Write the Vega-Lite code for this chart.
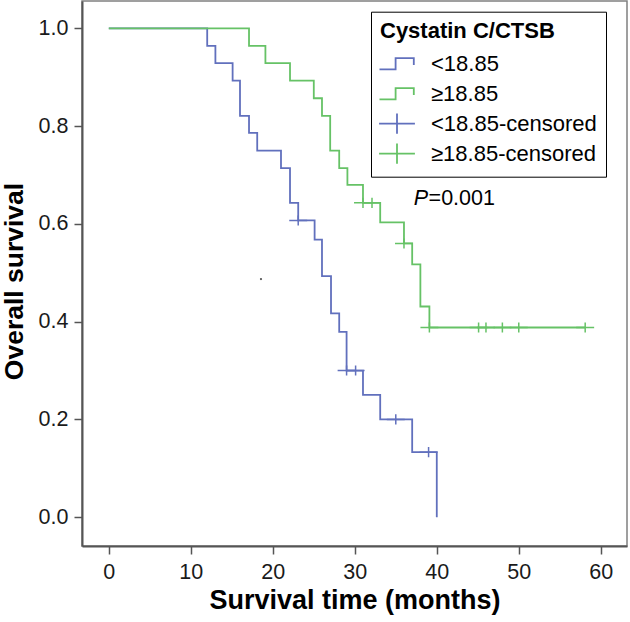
{
  "$schema": "https://vega.github.io/schema/vega-lite/v6.json",
  "width": 545,
  "height": 545,
  "autosize": "none",
  "padding": {"left": 82, "top": 1, "right": 3, "bottom": 76},
  "background": "white",
  "config": {
    "font": "Liberation Sans",
    "view": {"stroke": "#808080", "strokeWidth": 1.5}
  },
  "datasets": {
    "curves": [
      {"group": "<18.85", "time": 0, "survival": 1},
      {"group": "<18.85", "time": 12.0, "survival": 0.964},
      {"group": "<18.85", "time": 13.0, "survival": 0.929},
      {"group": "<18.85", "time": 15.1, "survival": 0.893},
      {"group": "<18.85", "time": 16.0, "survival": 0.821},
      {"group": "<18.85", "time": 17.1, "survival": 0.786},
      {"group": "<18.85", "time": 18.1, "survival": 0.75},
      {"group": "<18.85", "time": 21.0, "survival": 0.714},
      {"group": "<18.85", "time": 22.1, "survival": 0.643},
      {"group": "<18.85", "time": 23.1, "survival": 0.607},
      {"group": "<18.85", "time": 25.1, "survival": 0.568},
      {"group": "<18.85", "time": 26.0, "survival": 0.493},
      {"group": "<18.85", "time": 27.1, "survival": 0.417},
      {"group": "<18.85", "time": 28.1, "survival": 0.379},
      {"group": "<18.85", "time": 29.0, "survival": 0.3},
      {"group": "<18.85", "time": 31.0, "survival": 0.25},
      {"group": "<18.85", "time": 33.1, "survival": 0.2},
      {"group": "<18.85", "time": 37.0, "survival": 0.133},
      {"group": "<18.85", "time": 40.0, "survival": 0.0},
      {"group": "≥18.85", "time": 0, "survival": 1},
      {"group": "≥18.85", "time": 17.1, "survival": 0.964},
      {"group": "≥18.85", "time": 19.1, "survival": 0.929},
      {"group": "≥18.85", "time": 22.1, "survival": 0.893},
      {"group": "≥18.85", "time": 25.0, "survival": 0.857},
      {"group": "≥18.85", "time": 26.0, "survival": 0.821},
      {"group": "≥18.85", "time": 27.0, "survival": 0.75},
      {"group": "≥18.85", "time": 28.1, "survival": 0.714},
      {"group": "≥18.85", "time": 29.1, "survival": 0.68},
      {"group": "≥18.85", "time": 31.0, "survival": 0.643},
      {"group": "≥18.85", "time": 33.1, "survival": 0.603},
      {"group": "≥18.85", "time": 36.0, "survival": 0.56},
      {"group": "≥18.85", "time": 37.0, "survival": 0.517},
      {"group": "≥18.85", "time": 38.0, "survival": 0.431},
      {"group": "≥18.85", "time": 39.1, "survival": 0.388},
      {"group": "≥18.85", "time": 58.1, "survival": 0.388}
    ],
    "censors": [
      {"group": "<18.85-censored", "time": 23.1, "survival": 0.607},
      {"group": "<18.85-censored", "time": 29.0, "survival": 0.3},
      {"group": "<18.85-censored", "time": 30.1, "survival": 0.3},
      {"group": "<18.85-censored", "time": 35.0, "survival": 0.2},
      {"group": "<18.85-censored", "time": 39.0, "survival": 0.133},
      {"group": "≥18.85-censored", "time": 31.0, "survival": 0.643},
      {"group": "≥18.85-censored", "time": 32.1, "survival": 0.643},
      {"group": "≥18.85-censored", "time": 36.0, "survival": 0.56},
      {"group": "≥18.85-censored", "time": 39.1, "survival": 0.388},
      {"group": "≥18.85-censored", "time": 45.1, "survival": 0.388},
      {"group": "≥18.85-censored", "time": 46.0, "survival": 0.388},
      {"group": "≥18.85-censored", "time": 48.0, "survival": 0.388},
      {"group": "≥18.85-censored", "time": 50.0, "survival": 0.388},
      {"group": "≥18.85-censored", "time": 58.1, "survival": 0.388}
    ],
    "annot": [
      {"time": 37.2, "survival": 0.639, "label": "P"},
      {"time": 39.0, "survival": 0.639, "label": "=0.001"}
    ],
    "speck": [
      {"time": 18.56, "survival": 0.487}
    ]
  },
  "layer": [
    {
      "data": {"name": "curves"},
      "mark": {"type": "line", "interpolate": "step-after", "strokeWidth": 1.8},
      "encoding": {
        "x": {
          "field": "time", "type": "quantitative",
          "scale": {"domain": [-3.27, 63.2], "nice": false, "zero": false},
          "axis": {
            "values": [0, 10, 20, 30, 40, 50, 60],
            "title": "Survival time (months)",
            "grid": false,
            "domainColor": "#555555", "domainWidth": 2,
            "tickColor": "#555555", "tickWidth": 1.5, "tickSize": 8,
            "labelFontSize": 21.5, "labelColor": "#1a1a1a", "labelPadding": 7, "labelFlush": false,
            "titleFontSize": 27, "titleFontWeight": "bold", "titleColor": "black", "titlePadding": 5
          }
        },
        "y": {
          "field": "survival", "type": "quantitative",
          "scale": {"domain": [-0.059, 1.056], "nice": false, "zero": false},
          "axis": {
            "values": [0, 0.2, 0.4, 0.6, 0.8, 1.0],
            "format": ".1f",
            "title": "Overall survival",
            "grid": false,
            "domainColor": "#555555", "domainWidth": 2,
            "tickColor": "#555555", "tickWidth": 1.5, "tickSize": 8,
            "labelFontSize": 21.5, "labelColor": "#1a1a1a", "labelPadding": 6, "labelFlush": false,
            "titleFontSize": 26.5, "titleFontWeight": "bold", "titleColor": "black", "titlePadding": 10,
            "titleY": 280
          }
        },
        "color": {
          "field": "group", "type": "nominal",
          "scale": {"domain": ["<18.85", "≥18.85", "<18.85-censored", "≥18.85-censored"], "range": ["#6170bd", "#66c266", "#6170bd", "#66c266"]},
          "legend": {"title": "Cystatin C/CTSB"}
        }
      }
    },
    {
      "data": {"name": "censors"},
      "mark": {"type": "point", "filled": false, "size": 196, "strokeWidth": 1.5, "opacity": 1},
      "encoding": {
        "x": {"field": "time", "type": "quantitative"},
        "y": {"field": "survival", "type": "quantitative"},
        "color": {
          "field": "group", "type": "nominal",
          "scale": {"domain": ["<18.85", "≥18.85", "<18.85-censored", "≥18.85-censored"], "range": ["#6170bd", "#66c266", "#6170bd", "#66c266"]},
          "legend": {"title": "Cystatin C/CTSB"}
        },
        "shape": {
          "field": "group", "type": "nominal",
          "scale": {
            "domain": ["<18.85", "≥18.85", "<18.85-censored", "≥18.85-censored"],
            "range": ["M0,-0.72M0,0.72M-1.25,0.4H-0.1V-0.4H1.2V0.1", "M0,-0.72M0,0.72M-1.25,0.4H-0.1V-0.4H1.2V0.1", "M-1.28,0H1.28M0,-0.72V0.72", "M-1.28,0H1.28M0,-0.72V0.72"]
          },
          "legend": {
            "title": "Cystatin C/CTSB",
            "orient": "none",
            "legendX": 289,
            "legendY": 10.7,
            "titleFontSize": 22,
            "titleFontWeight": "bold",
            "titleColor": "black",
            "labelFontSize": 22,
            "labelColor": "black",
            "labelLimit": 300,
            "strokeColor": "black",
            "fillColor": "white",
            "padding": 9,
            "symbolSize": 784,
            "symbolStrokeWidth": 1.8,
            "symbolFillColor": "transparent",
            "symbolOffset": 2,
            "rowPadding": 1,
            "titlePadding": 6,
            "labelOffset": 19
          }
        }
      }
    },
    {
      "data": {"name": "annot"},
      "transform": [{"filter": "datum.label == 'P'"}],
      "mark": {"type": "text", "align": "left", "baseline": "alphabetic", "fontSize": 21.5, "fontStyle": "italic", "color": "black"},
      "encoding": {
        "x": {"field": "time", "type": "quantitative"},
        "y": {"field": "survival", "type": "quantitative"},
        "text": {"field": "label"}
      }
    },
    {
      "data": {"name": "annot"},
      "transform": [{"filter": "datum.label != 'P'"}],
      "mark": {"type": "text", "align": "left", "baseline": "alphabetic", "fontSize": 21.5, "color": "black"},
      "encoding": {
        "x": {"field": "time", "type": "quantitative"},
        "y": {"field": "survival", "type": "quantitative"},
        "text": {"field": "label"}
      }
    },
    {
      "data": {"name": "speck"},
      "mark": {"type": "circle", "size": 5, "color": "#555555", "opacity": 1},
      "encoding": {
        "x": {"field": "time", "type": "quantitative"},
        "y": {"field": "survival", "type": "quantitative"}
      }
    }
  ]
}
